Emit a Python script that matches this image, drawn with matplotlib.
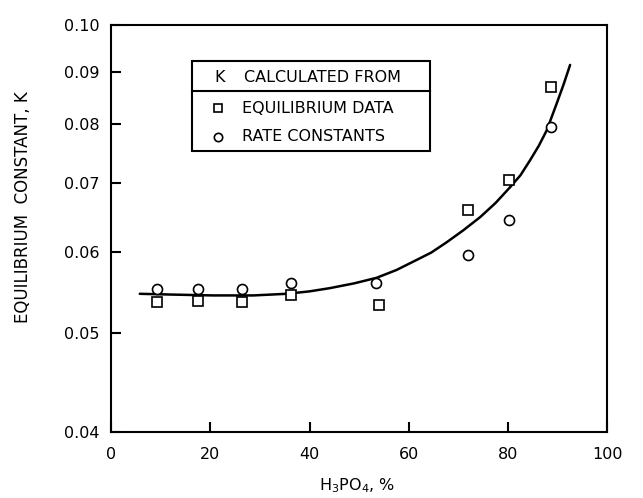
import matplotlib
matplotlib.use("Agg")
import matplotlib.pyplot as plt
from matplotlib.ticker import FixedLocator, FixedFormatter, NullLocator
from matplotlib.patches import Rectangle
from matplotlib.lines import Line2D

# Data
eq_x = [9.3, 17.6, 26.3, 36.3, 53.9, 71.9, 80.2, 88.7]
eq_k = [0.0536, 0.0537, 0.0536, 0.0545, 0.0533, 0.0660, 0.0705, 0.0869]
rate_x = [9.3, 17.6, 26.3, 36.3, 53.3, 72.0, 80.2, 88.7]
rate_k = [0.0552, 0.0552, 0.0552, 0.0559, 0.0559, 0.0596, 0.0645, 0.0795]
curve_x = [5.8, 12.6, 20.6, 28.7, 35.4, 40.0, 44.1, 49.0, 53.5, 57.5, 60.9, 64.5, 67.6,
           71.0, 74.4, 77.5, 80.4, 82.5, 84.4, 86.2, 87.8, 89.8, 91.2, 92.5]
curve_k = [0.0546, 0.0545, 0.0544, 0.0544, 0.0546, 0.0549, 0.0553, 0.0559, 0.0566, 0.0576,
           0.0587, 0.0599, 0.0613, 0.0630, 0.0649, 0.0670, 0.0694, 0.0713, 0.0737, 0.0762,
           0.0789, 0.0838, 0.0875, 0.0914]
y_ticks = [0.04, 0.05, 0.06, 0.07, 0.08, 0.09, 0.10]
y_ticklabels = ["0.04", "0.05", "0.06", "0.07", "0.08", "0.09", "0.10"]
x_ticks = [0, 20, 40, 60, 80, 100]
x_ticklabels = ["0", "20", "40", "60", "80", "100"]

plt.rcParams['font.family'] = ['DejaVu Sans']

fig = plt.figure(figsize=(6.43, 4.98), dpi=100)
ax = fig.add_axes([0.1726, 0.1325, 0.7719, 0.8173])

ax.plot(curve_x, curve_k, color='black', lw=1.8, solid_capstyle='round', solid_joinstyle='round')
ax.plot(eq_x, eq_k, ls='none', marker='s', ms=6.5, mfc='white', mec='black', mew=1.2)
ax.plot(rate_x, rate_k, ls='none', marker='o', ms=7.2, mfc='white', mec='black', mew=1.2)

ax.set_yscale('log')
ax.set_xlim(0, 100)
ax.set_ylim(0.04, 0.10)
ax.yaxis.set_major_locator(FixedLocator(y_ticks))
ax.yaxis.set_major_formatter(FixedFormatter(y_ticklabels))
ax.yaxis.set_minor_locator(NullLocator())
ax.xaxis.set_major_locator(FixedLocator(x_ticks))
ax.xaxis.set_major_formatter(FixedFormatter(x_ticklabels))

ax.tick_params(axis='both', direction='in', length=7, width=1.5, labelsize=11.5)
ax.tick_params(axis='y', pad=8)
ax.tick_params(axis='x', pad=11)
for s in ax.spines.values():
    s.set_linewidth(1.5)

ax.set_xlabel(r'H$_3$PO$_4$, %', fontsize=11.5)
ax.xaxis.set_label_coords(0.495, -0.11)
ax.set_ylabel('EQUILIBRIUM  CONSTANT, K', fontsize=12)
ax.yaxis.set_label_coords(-0.16, 0.552)

# Legend box drawn manually
T = ax.transAxes
ax.add_patch(Rectangle((0.163, 0.69), 0.48, 0.221, transform=T, fill=False,
                       ec='black', lw=1.5, zorder=5))
ax.add_line(Line2D([0.163, 0.643], [0.837, 0.837], transform=T, color='black', lw=1.5, zorder=5))
lfs = 11.5
ax.text(0.2196, 0.872, 'K', transform=T, ha='center', va='center', fontsize=lfs)
ax.text(0.268, 0.872, 'CALCULATED FROM', transform=T, ha='left', va='center', fontsize=lfs)
ax.plot([0.2156], [0.7956], transform=T, marker='s', ms=5.5, mfc='white', mec='black', mew=1.2,
        clip_on=False)
ax.text(0.264, 0.7956, 'EQUILIBRIUM DATA', transform=T, ha='left', va='center', fontsize=lfs)
ax.plot([0.2156], [0.7249], transform=T, marker='o', ms=6, mfc='white', mec='black', mew=1.2,
        clip_on=False)
ax.text(0.264, 0.7249, 'RATE CONSTANTS', transform=T, ha='left', va='center', fontsize=lfs)

fig.savefig('out.png', dpi=100)
